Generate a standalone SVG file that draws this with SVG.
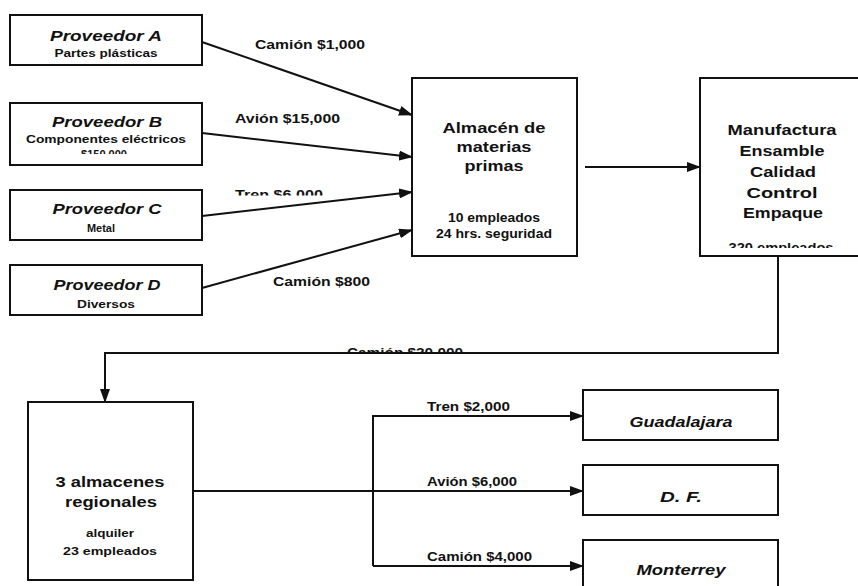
<svg xmlns="http://www.w3.org/2000/svg" width="858" height="586" viewBox="0 0 858 586">
<style>
.box{fill:#fff;stroke:#111;stroke-width:2}
.ln{fill:none;stroke:#111;stroke-width:2}
text{font-family:"Liberation Sans",Arial,sans-serif;font-weight:bold;fill:#111}
.t{font-size:15px;text-anchor:middle}
.ti{font-size:15px;font-style:italic;text-anchor:middle}
.s{font-size:11px;text-anchor:middle}
.m{font-size:12px;text-anchor:middle}
.l{font-size:12px;text-anchor:start}
</style>
<defs>
<marker id="ah" markerUnits="userSpaceOnUse" markerWidth="14" markerHeight="10" refX="13" refY="5" orient="auto">
<path d="M0,0 L14,5 L0,10 z" fill="#111"/>
</marker>
<clipPath id="cB"><rect x="0" y="0" width="858" height="154"/></clipPath>
<clipPath id="cT"><rect x="0" y="0" width="858" height="195.5"/></clipPath>
<clipPath id="cM"><rect x="0" y="0" width="858" height="248"/></clipPath>
<clipPath id="cC"><rect x="0" y="0" width="858" height="352"/></clipPath>
</defs>
<rect width="858" height="586" fill="#fff"/>

<g id="connectors">
<line class="ln" x1="202" y1="42" x2="412" y2="115" marker-end="url(#ah)"/>
<line class="ln" x1="202" y1="133" x2="412" y2="157" marker-end="url(#ah)"/>
<line class="ln" x1="202" y1="216" x2="412" y2="192" marker-end="url(#ah)"/>
<line class="ln" x1="202" y1="288" x2="412" y2="230" marker-end="url(#ah)"/>
<line class="ln" x1="585" y1="167" x2="700" y2="167" marker-end="url(#ah)"/>
<polyline class="ln" points="778,256 778,353 105,353 105,402" marker-end="url(#ah)"/>
<line class="ln" x1="193" y1="491" x2="583" y2="491" marker-end="url(#ah)"/>
<polyline class="ln" points="373,566 373,416 583,416" marker-end="url(#ah)"/>
<line class="ln" x1="373" y1="566" x2="583" y2="566" marker-end="url(#ah)"/>
<text class="l" x="255" y="49" textLength="110" lengthAdjust="spacingAndGlyphs">Camión $1,000</text>
<text class="l" x="235" y="123" textLength="105" lengthAdjust="spacingAndGlyphs">Avión $15,000</text>
<text class="l" x="235" y="199" textLength="88" lengthAdjust="spacingAndGlyphs" clip-path="url(#cT)">Tren $6,000</text>
<text class="l" x="273" y="286" textLength="97" lengthAdjust="spacingAndGlyphs">Camión $800</text>
<text class="l" x="347" y="357" textLength="116" lengthAdjust="spacingAndGlyphs" clip-path="url(#cC)">Camión $20,000</text>
<text class="l" x="427" y="411" textLength="83" lengthAdjust="spacingAndGlyphs">Tren $2,000</text>
<text class="l" x="427" y="486" textLength="90" lengthAdjust="spacingAndGlyphs">Avión $6,000</text>
<text class="l" x="427" y="561" textLength="105" lengthAdjust="spacingAndGlyphs">Camión $4,000</text>
</g>

<g id="provA">
<rect class="box" x="10" y="15" width="192" height="50"/>
<text class="ti" x="106" y="41" textLength="112" lengthAdjust="spacingAndGlyphs">Proveedor A</text>
<text class="s" x="106" y="57" textLength="103" lengthAdjust="spacingAndGlyphs">Partes plásticas</text>
</g>
<g id="provB">
<rect class="box" x="10" y="103" width="192" height="62"/>
<text class="ti" x="107" y="127" textLength="110" lengthAdjust="spacingAndGlyphs">Proveedor B</text>
<text class="s" x="106" y="143" textLength="160" lengthAdjust="spacingAndGlyphs">Componentes eléctricos</text>
<text class="s" x="104" y="158" textLength="46" lengthAdjust="spacingAndGlyphs" clip-path="url(#cB)">$150,000</text>
</g>
<g id="provC">
<rect class="box" x="10" y="190" width="192" height="50"/>
<text class="ti" x="107" y="214" textLength="109" lengthAdjust="spacingAndGlyphs">Proveedor C</text>
<text class="s" x="101" y="232" textLength="28" lengthAdjust="spacingAndGlyphs">Metal</text>
</g>
<g id="provD">
<rect class="box" x="10" y="265" width="192" height="50"/>
<text class="ti" x="107" y="290" textLength="107" lengthAdjust="spacingAndGlyphs">Proveedor D</text>
<text class="s" x="106" y="308" textLength="58" lengthAdjust="spacingAndGlyphs">Diversos</text>
</g>
<g id="almacen">
<rect class="box" x="412" y="78" width="165" height="178"/>
<text class="t" x="494" y="133" textLength="103" lengthAdjust="spacingAndGlyphs">Almacén de</text>
<text class="t" x="494" y="152" textLength="75" lengthAdjust="spacingAndGlyphs">materias</text>
<text class="t" x="494" y="171" textLength="59" lengthAdjust="spacingAndGlyphs">primas</text>
<text class="m" x="494" y="222" textLength="92" lengthAdjust="spacingAndGlyphs">10 empleados</text>
<text class="m" x="494" y="238" textLength="116" lengthAdjust="spacingAndGlyphs">24 hrs. seguridad</text>
</g>
<g id="manufactura">
<rect class="box" x="700" y="78" width="170" height="178"/>
<text class="t" x="782" y="135" textLength="109" lengthAdjust="spacingAndGlyphs">Manufactura</text>
<text class="t" x="782" y="156" textLength="85" lengthAdjust="spacingAndGlyphs">Ensamble</text>
<text class="t" x="783" y="177" textLength="66" lengthAdjust="spacingAndGlyphs">Calidad</text>
<text class="t" x="782" y="198" textLength="71" lengthAdjust="spacingAndGlyphs">Control</text>
<text class="t" x="783" y="218" textLength="80" lengthAdjust="spacingAndGlyphs">Empaque</text>
<text class="m" x="781" y="252" textLength="105" lengthAdjust="spacingAndGlyphs" clip-path="url(#cM)">320 empleados</text>
</g>
<g id="regionales">
<rect class="box" x="28" y="402" width="165" height="178"/>
<text class="t" x="110" y="487" textLength="109" lengthAdjust="spacingAndGlyphs">3 almacenes</text>
<text class="t" x="111" y="507" textLength="92" lengthAdjust="spacingAndGlyphs">regionales</text>
<text class="s" x="110" y="537" textLength="48" lengthAdjust="spacingAndGlyphs">alquiler</text>
<text class="s" x="110" y="555" textLength="94" lengthAdjust="spacingAndGlyphs">23 empleados</text>
</g>
<g id="guadalajara">
<rect class="box" x="583" y="390" width="195" height="50"/>
<text class="ti" x="681" y="427" textLength="103" lengthAdjust="spacingAndGlyphs">Guadalajara</text>
</g>
<g id="df">
<rect class="box" x="583" y="465" width="195" height="50"/>
<text class="ti" x="681" y="502" textLength="42" lengthAdjust="spacingAndGlyphs">D. F.</text>
</g>
<g id="monterrey">
<rect class="box" x="583" y="540" width="195" height="60"/>
<text class="ti" x="681" y="575" textLength="89" lengthAdjust="spacingAndGlyphs">Monterrey</text>
</g>
</svg>
